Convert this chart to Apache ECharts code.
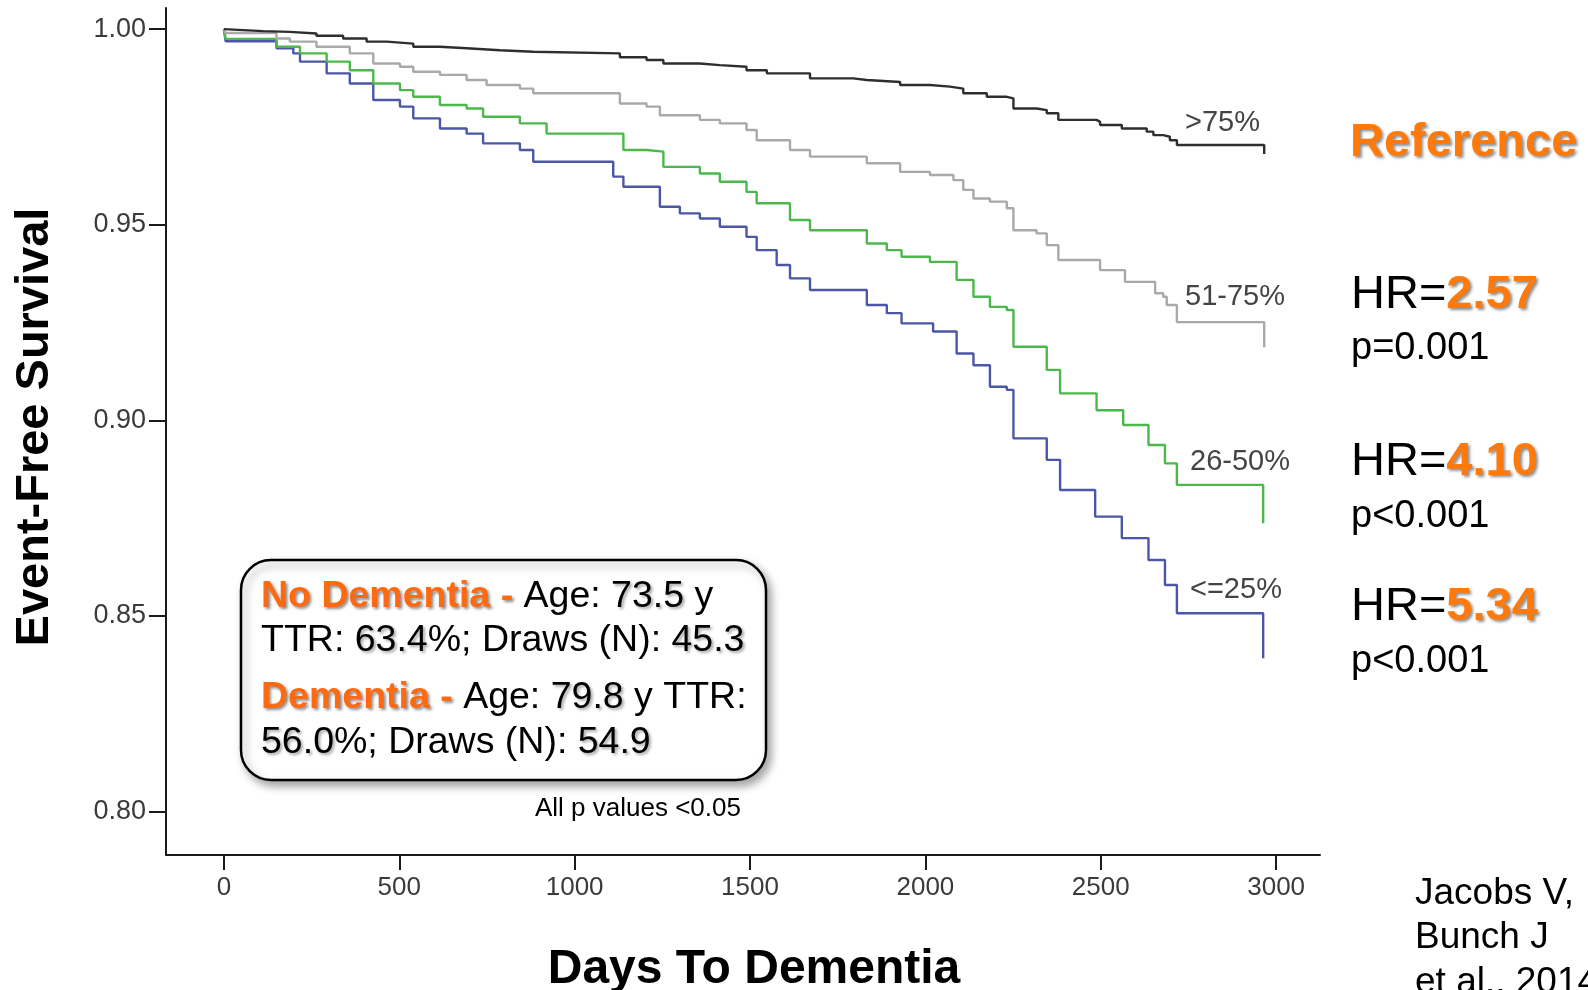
<!DOCTYPE html>
<html>
<head>
<meta charset="utf-8">
<script src="https://cdn.jsdelivr.net/npm/echarts@6/dist/echarts.min.js"></script>
<style>
html,body{margin:0;padding:0;background:#ffffff;}
#c{width:1588px;height:990px;}
</style>
</head>
<body>
<div id="c"></div>
<script>
// ---------------- data ----------------
const xTicks = [0, 500, 1000, 1500, 2000, 2500, 3000];
const yTicks = [0.80, 0.85, 0.90, 0.95, 1.00];

const groupNames = ['>75%', '51-75%', '26-50%', '<=25%'];

const daysGt75 = [0, 5, 112, 188, 264, 340, 407, 464, 540, 616, 692, 787, 882, 1129, 1205, 1253, 1357, 1414, 1490, 1548, 1671, 1794, 1833, 1928, 2013, 2070, 2108, 2175, 2232, 2251, 2317, 2346, 2379, 2488, 2498, 2560, 2631, 2650, 2678, 2697, 2717, 2966];
const survGt75 = [1.0, 0.9995, 0.9993, 0.9989, 0.9983, 0.9976, 0.9968, 0.9963, 0.9955, 0.9951, 0.9946, 0.9942, 0.9938, 0.9928, 0.9921, 0.9912, 0.9908, 0.9904, 0.9895, 0.9887, 0.9874, 0.9870, 0.9865, 0.9857, 0.9853, 0.9848, 0.9836, 0.9827, 0.9823, 0.9797, 0.9793, 0.9785, 0.9768, 0.9763, 0.9755, 0.9746, 0.9738, 0.9729, 0.9725, 0.9716, 0.9704, 0.9681];

const days51to75 = [0, 5, 150, 188, 264, 359, 426, 502, 540, 616, 692, 749, 844, 882, 1129, 1205, 1243, 1357, 1414, 1490, 1519, 1614, 1671, 1833, 1928, 2013, 2080, 2108, 2137, 2184, 2232, 2251, 2317, 2346, 2379, 2498, 2569, 2655, 2678, 2688, 2717, 2966];
const surv51to75 = [1.0, 0.9990, 0.9976, 0.9968, 0.9955, 0.9938, 0.9912, 0.9904, 0.9891, 0.9883, 0.9870, 0.9857, 0.9848, 0.9836, 0.9810, 0.9802, 0.9780, 0.9768, 0.9759, 0.9742, 0.9716, 0.9691, 0.9674, 0.9657, 0.9635, 0.9627, 0.9614, 0.9589, 0.9567, 0.9559, 0.9542, 0.9486, 0.9478, 0.9448, 0.9410, 0.9384, 0.9354, 0.9325, 0.9316, 0.9295, 0.9251, 0.9187];

const days26to50 = [0, 5, 150, 217, 293, 359, 426, 502, 540, 616, 692, 739, 844, 920, 1139, 1205, 1253, 1357, 1414, 1490, 1519, 1614, 1671, 1833, 1890, 1932, 2013, 2089, 2137, 2184, 2232, 2251, 2346, 2384, 2488, 2564, 2636, 2683, 2717, 2963];
const surv26to50 = [1.0, 0.9975, 0.9955, 0.9938, 0.9917, 0.9895, 0.9861, 0.9844, 0.9827, 0.9806, 0.9797, 0.9776, 0.9759, 0.9733, 0.9691, 0.9687, 0.9648, 0.9631, 0.9610, 0.9584, 0.9555, 0.9512, 0.9486, 0.9452, 0.9435, 0.9418, 0.9405, 0.9359, 0.9316, 0.9290, 0.9282, 0.9188, 0.9129, 0.9069, 0.9026, 0.8988, 0.8937, 0.8890, 0.8835, 0.8737];

const daysLe25 = [0, 5, 150, 198, 217, 293, 359, 426, 502, 540, 616, 692, 739, 844, 882, 1110, 1139, 1243, 1300, 1357, 1414, 1490, 1519, 1576, 1614, 1671, 1833, 1890, 1932, 2022, 2089, 2137, 2184, 2232, 2251, 2346, 2384, 2484, 2560, 2636, 2683, 2717, 2963];
const survLe25 = [1.0, 0.9969, 0.9951, 0.9938, 0.9917, 0.9887, 0.9861, 0.9819, 0.9802, 0.9772, 0.9746, 0.9733, 0.9708, 0.9691, 0.9661, 0.9623, 0.9597, 0.9546, 0.9529, 0.9516, 0.9495, 0.9469, 0.9435, 0.9397, 0.9363, 0.9333, 0.9295, 0.9274, 0.9248, 0.9227, 0.9171, 0.9141, 0.9086, 0.9078, 0.8954, 0.8899, 0.8822, 0.8754, 0.8699, 0.8643, 0.8579, 0.8507, 0.8392];

const hrValues = ['2.57', '4.10', '5.34'];
const pTexts = ['p=0.001', 'p<0.001', 'p<0.001'];

// ---------------- styling ----------------
const FONT = "'Liberation Sans', Arial, Helvetica, sans-serif";
const ORANGE = '#FF7A0A';
const ORANGE_BOX = '#FF6A10';
const groupColors = ['#2e2e2e', '#a9a9a9', '#4cb84c', '#4b57a6'];
const groupData = [
  [daysGt75, survGt75],
  [days51to75, surv51to75],
  [days26to50, surv26to50],
  [daysLe25, survLe25]
];

const chart = echarts.init(document.getElementById('c'), null, {renderer: 'canvas'});

const series = groupData.map((g, i) => ({
  name: groupNames[i],
  type: 'line',
  step: 'end',
  symbol: 'none',
  showSymbol: false,
  data: g[0].map((d, k) => [d, g[1][k]]),
  lineStyle: {color: groupColors[i], width: 2.4},
  itemStyle: {color: groupColors[i]},
  z: 10 - i,
  silent: true
}));

const shadow = {textShadowColor: 'rgba(0,0,0,0.45)', textShadowBlur: 3, textShadowOffsetX: 2, textShadowOffsetY: 2};

function txt(x, y, text, rich, extra) {
  return {
    type: 'text', x: x, y: y, z: 100,
    style: Object.assign({text: text, rich: rich, fontFamily: FONT, verticalAlign: 'middle', align: 'left'}, extra || {})
  };
}

const BOXF = 37.5;
const richBox = {
  o: Object.assign({fontFamily: FONT, fontSize: BOXF, fontWeight: 'bold', fill: ORANGE_BOX, color: ORANGE_BOX}, shadow),
  n: {fontFamily: FONT, fontSize: BOXF, fill: '#000', color: '#000'},
  s: {fontFamily: FONT, fontSize: BOXF, fill: '#000', color: '#000', textShadowColor: 'rgba(0,0,0,0.35)', textShadowBlur: 3, textShadowOffsetX: 2, textShadowOffsetY: 2}
};
const richHR = {
  n: {fontFamily: FONT, fontSize: 47, fill: '#000', color: '#000'},
  o: Object.assign({fontFamily: FONT, fontSize: 47, fontWeight: 'bold', fill: ORANGE, color: ORANGE}, shadow)
};

const graphics = [];
// annotation box
graphics.push({
  type: 'rect', z: 50,
  shape: {x: 241, y: 560, width: 525, height: 220, r: 30},
  style: {fill: '#fff', stroke: '#000', lineWidth: 2.5, shadowBlur: 8, shadowColor: 'rgba(0,0,0,0.35)', shadowOffsetX: 4, shadowOffsetY: 5}
});
graphics.push(txt(261, 597, '{o|No Dementia - }{n|Age: }{s|73.5}{n| y}', richBox));
graphics.push(txt(261, 641, '{n|TTR: }{s|63.4}{n|%; Draws (N): }{s|45.3}', richBox));
graphics.push(txt(261, 698, '{o|Dementia - }{n|Age: }{s|79.8}{n| y TTR:}', richBox));
graphics.push(txt(261, 743, '{s|56.0}{n|%; Draws (N): }{s|54.9}', richBox));
graphics.push(txt(535, 809, 'All p values <0.05', null, {fontSize: 26, fill: '#000'}));

// curve labels
const labelPos = [[1185, 123], [1185, 297], [1190, 462], [1190, 590]];
groupNames.forEach((n, i) => {
  graphics.push(txt(labelPos[i][0], labelPos[i][1], n, null, {fontSize: 29, fill: '#444'}));
});

// right side stats
graphics.push(txt(1350, 143, 'Reference', null, Object.assign({fontSize: 47, fontWeight: 'bold', fill: ORANGE}, shadow)));
const hrY = [[295, 349], [462, 517], [607, 662]];
hrValues.forEach((h, i) => {
  graphics.push(txt(1351, hrY[i][0], '{n|HR=}{o|' + h + '}', richHR));
  graphics.push(txt(1351, hrY[i][1], pTexts[i], null, {fontSize: 38, fill: '#000'}));
});

// citation
graphics.push(txt(1415, 894, 'Jacobs V,', null, {fontSize: 37, fill: '#000'}));
graphics.push(txt(1415, 938, 'Bunch J', null, {fontSize: 37, fill: '#000'}));
graphics.push(txt(1415, 983, 'et al., 2014', null, {fontSize: 37, fill: '#000'}));

// axis titles
graphics.push({type: 'text', x: 754, y: 970, z: 100,
  style: {text: 'Days To Dementia', fontFamily: FONT, fontSize: 48, fontWeight: 'bold', fill: '#000', align: 'center', verticalAlign: 'middle'}});
graphics.push({type: 'text', x: 35, y: 427, rotation: Math.PI / 2, z: 100,
  style: {text: 'Event-Free Survival', fontFamily: FONT, fontSize: 47, fontWeight: 'bold', fill: '#000', align: 'center', verticalAlign: 'middle'}});

const option = {
  animation: false,
  backgroundColor: '#ffffff',
  grid: {left: 166, top: 8, right: 268, bottom: 135, containLabel: false},
  xAxis: {
    type: 'value', min: -165, max: 3125,
    axisLine: {show: true, onZero: false, lineStyle: {color: '#1a1a1a', width: 2}},
    axisTick: {show: true, customValues: xTicks, length: 15, lineStyle: {color: '#1a1a1a', width: 2}},
    axisLabel: {customValues: xTicks, margin: 20, fontSize: 26, color: '#3a3a3a', fontFamily: FONT, formatter: v => String(v)},
    splitLine: {show: false}
  },
  yAxis: {
    type: 'value', min: 0.7889, max: 1.0054,
    axisLine: {show: true, onZero: false, lineStyle: {color: '#1a1a1a', width: 2}},
    axisTick: {show: true, customValues: yTicks, length: 17, lineStyle: {color: '#1a1a1a', width: 2}},
    axisLabel: {customValues: yTicks, margin: 20, fontSize: 27, color: '#3a3a3a', fontFamily: FONT, formatter: v => v.toFixed(2)},
    splitLine: {show: false}
  },
  series: series,
  graphic: graphics
};
chart.setOption(option);
</script>
</body>
</html>
